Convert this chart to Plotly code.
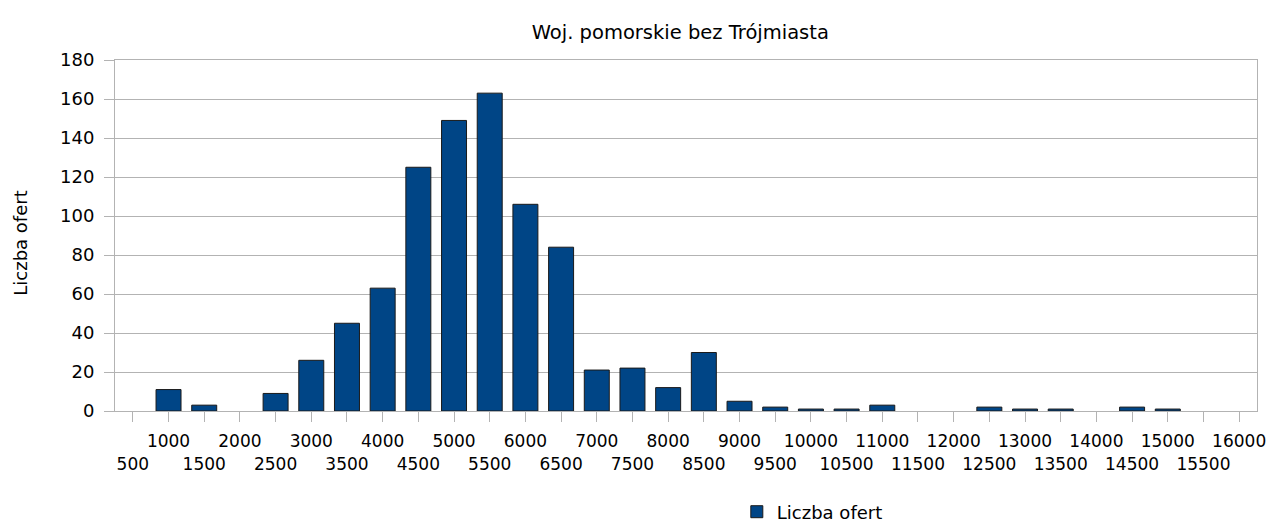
import plotly.graph_objects as go

categories = [str(v) for v in range(500, 16001, 500)]
values = [0, 11, 3, 0, 9, 26, 45, 63, 125, 149, 163, 106, 84, 21, 22, 12, 30,
          5, 2, 1, 1, 3, 0, 0, 2, 1, 1, 0, 2, 1, 0, 0]
series_name = "Liczba ofert"
title_text = "Woj. pomorskie bez Trójmiasta"
y_title = "Liczba ofert"

ticktext = [(c + "<br> ") if i % 2 == 1 else (" <br>" + c) for i, c in enumerate(categories)]
bar_y = [v if v > 0 else None for v in values]

W, H = 1274, 514  # page body has an 8px margin

fig = go.Figure()
fig.add_trace(go.Bar(
    x=categories, y=bar_y, name=series_name,
    marker=dict(color="#004586", line=dict(color="#1a1a1a", width=1)),
    showlegend=True,
))

font_family = "DejaVu Sans"
fig.update_layout(
    width=W, height=H,
    margin=dict(l=107, r=25, t=52, b=111, autoexpand=False),
    paper_bgcolor="white", plot_bgcolor="white",
    font=dict(family=font_family, size=17, color="#000000"),
    bargap=0.3,
    title=dict(text=title_text, x=0.495, xref="paper", y=1 - 24 / H, yref="container",
               xanchor="center", yanchor="middle",
               font=dict(family=font_family, size=19.5, color="#000000")),
    showlegend=True,
    legend=dict(orientation="h", x=0.5445, xanchor="left", y=10 / H, yref="container",
                yanchor="middle", font=dict(family=font_family, size=18)),
    xaxis=dict(
        type="category", tickmode="array", tickvals=categories, ticktext=ticktext,
        showline=True, linecolor="#b3b3b3", mirror=True,
        ticks="outside", ticklen=10, tickcolor="#b3b3b3",
        tickangle=0, tickfont=dict(size=17), ticklabelstandoff=5,
        showgrid=False, automargin=False,
    ),
    yaxis=dict(
        range=[0, 180], dtick=20, tick0=0,
        showgrid=True, gridcolor="#b3b3b3",
        showline=True, linecolor="#b3b3b3", mirror=True,
        ticks="outside", ticklen=10, tickcolor="#b3b3b3",
        tickfont=dict(size=18), ticklabelstandoff=6,
        zeroline=False, automargin=False,
    ),
    annotations=[dict(text=y_title, textangle=-90, x=-0.094, y=0.477,
                      xref="paper", yref="paper", showarrow=False,
                      font=dict(family=font_family, size=18))],
)

fig.write_html("out.html")
